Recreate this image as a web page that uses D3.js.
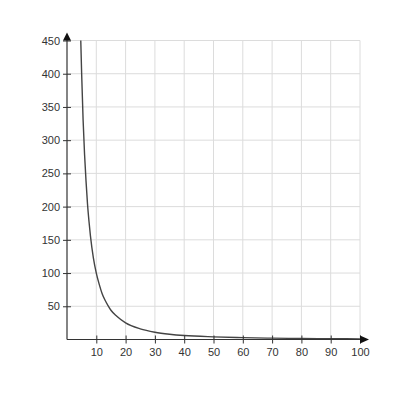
<!DOCTYPE html>
<html>
<head>
<meta charset="utf-8">
<script src="https://d3js.org/d3.v7.min.js"></script>
<style>
  body { margin: 0; background: #fff; }
  text { font-family: "Liberation Sans", Arial, sans-serif; }
</style>
</head>
<body>
<svg id="chart" width="400" height="400"></svg>
<script>
'use strict';

// values
var xs = [4.7, 5, 5.5, 6, 6.5, 7, 7.5, 8, 9, 10, 11, 12, 13, 14, 15, 17, 20, 25, 30, 35, 40, 50, 60, 70, 80, 90, 100];
var ys = [450, 400, 330, 278, 238, 204, 178, 156, 123, 100, 83, 69, 59, 51, 44, 35, 25, 16, 11, 8, 6, 4, 2.8, 2, 1.6, 1.2, 1];
var xTicks = [10, 20, 30, 40, 50, 60, 70, 80, 90, 100];
var yTicks = [50, 100, 150, 200, 250, 300, 350, 400, 450];

var svg = d3.select("#chart");
var x = d3.scaleLinear().domain([0, 100]).range([67, 360]);
var y = d3.scaleLinear().domain([0, 450]).range([339.5, 40.5]);

// grid
var grid = svg.append("g").attr("stroke", "#dcdcdc").attr("stroke-width", 1);
grid.selectAll(".gx").data(xTicks).enter().append("line")
  .attr("x1", function(d) { return x(d); }).attr("x2", function(d) { return x(d); })
  .attr("y1", y(0)).attr("y2", y(450));
grid.selectAll(".gy").data(yTicks).enter().append("line")
  .attr("x1", x(0)).attr("x2", x(100))
  .attr("y1", function(d) { return y(d); }).attr("y2", function(d) { return y(d); });

// curve
var pts = xs.map(function(d, i) { return [d, ys[i]]; });
var line = d3.line()
  .x(function(d) { return x(d[0]); })
  .y(function(d) { return y(d[1]); })
  .curve(d3.curveMonotoneX);
svg.append("path")
  .datum(pts)
  .attr("d", line)
  .attr("fill", "none")
  .attr("stroke", "#444")
  .attr("stroke-width", 1.4);

// axes
var xAxis = svg.append("g")
  .attr("transform", "translate(0," + y(0) + ")")
  .call(d3.axisBottom(x).tickValues(xTicks).tickSize(4).tickPadding(5));
var yAxis = svg.append("g")
  .attr("transform", "translate(" + x(0) + ",0)")
  .call(d3.axisLeft(y).tickValues(yTicks).tickSize(4).tickPadding(3));

[xAxis, yAxis].forEach(function(a) {
  a.select(".domain").remove();
  a.selectAll("text").attr("fill", "#333").attr("font-size", "11px")
    .attr("font-family", "Liberation Sans, Arial, sans-serif");
});
xAxis.selectAll(".tick line").attr("y1", -4).attr("y2", 4).attr("stroke", "#333");
yAxis.selectAll(".tick line").attr("x1", -4).attr("x2", 4).attr("stroke", "#333");

// axis lines with arrow heads
svg.append("line")
  .attr("x1", x(0)).attr("x2", x(100) + 2)
  .attr("y1", y(0)).attr("y2", y(0))
  .attr("stroke", "#333").attr("stroke-width", 1.2);
svg.append("line")
  .attr("x1", x(0)).attr("x2", x(0))
  .attr("y1", y(0)).attr("y2", y(450) - 2)
  .attr("stroke", "#333").attr("stroke-width", 1.2);
svg.append("path")
  .attr("d", "M" + (x(100)) + "," + (y(0) - 4) + "L" + (x(100) + 9) + "," + y(0) + "L" + x(100) + "," + (y(0) + 4) + "Z")
  .attr("fill", "#111");
svg.append("path")
  .attr("d", "M" + (x(0) - 4) + "," + y(450) + "L" + x(0) + "," + (y(450) - 8) + "L" + (x(0) + 4) + "," + y(450) + "Z")
  .attr("fill", "#111");
</script>
</body>
</html>
